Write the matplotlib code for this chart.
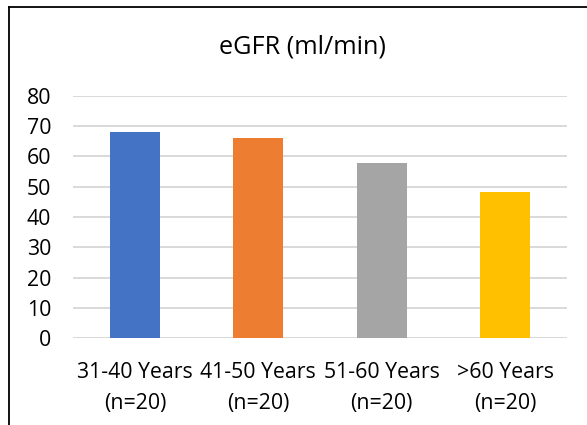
import matplotlib
matplotlib.use("Agg")
import matplotlib.pyplot as plt
from matplotlib.lines import Line2D

categories = ["31-40 Years\n(n=20)", "41-50 Years\n(n=20)", "51-60 Years\n(n=20)", ">60 Years\n(n=20)"]
values = [68.1, 66.2, 57.9, 48.3]
colors = ["#4472C4", "#ED7D31", "#A5A5A5", "#FFC000"]
title = "eGFR (ml/min)"

plt.rcParams['font.family'] = ['Open Sans', 'DejaVu Sans']

W, H = 587, 425
fig = plt.figure(figsize=(W/100, H/100), dpi=100)
ax = fig.add_axes([73.3/W, 1-338.3/H, (566.7-73.3)/W, (338.3-95.7)/H])

x = list(range(len(categories)))
ax.bar(x, values, width=0.405, color=colors, zorder=3)
ax.set_xlim(-0.5, len(categories)-0.5)
ax.set_ylim(0, 80)
ax.set_yticks(range(0, 81, 10))
ax.set_xticks(x)
ax.set_xticklabels(categories, linespacing=1.65)
ax.yaxis.grid(True, color="#D9D9D9", linewidth=1.4, zorder=0)
ax.set_axisbelow(True)
for s in ax.spines.values():
    s.set_visible(False)
ax.tick_params(axis='both', length=0, labelsize=15.3, colors="#000000")
ax.tick_params(axis='y', pad=16)
ax.tick_params(axis='x', pad=17)

fig.text(302/W, 1-47/H, title, ha='center', va='center', fontsize=18.2, color="#000000")

# outer border (left and top visible)
fig.add_artist(Line2D([8.7/W, 8.7/W], [0, 1-7.3/H], transform=fig.transFigure, color='black', linewidth=1.3))
fig.add_artist(Line2D([8.7/W, 1], [1-7.3/H, 1-7.3/H], transform=fig.transFigure, color='black', linewidth=1.3))

fig.savefig("out.png", dpi=100)
